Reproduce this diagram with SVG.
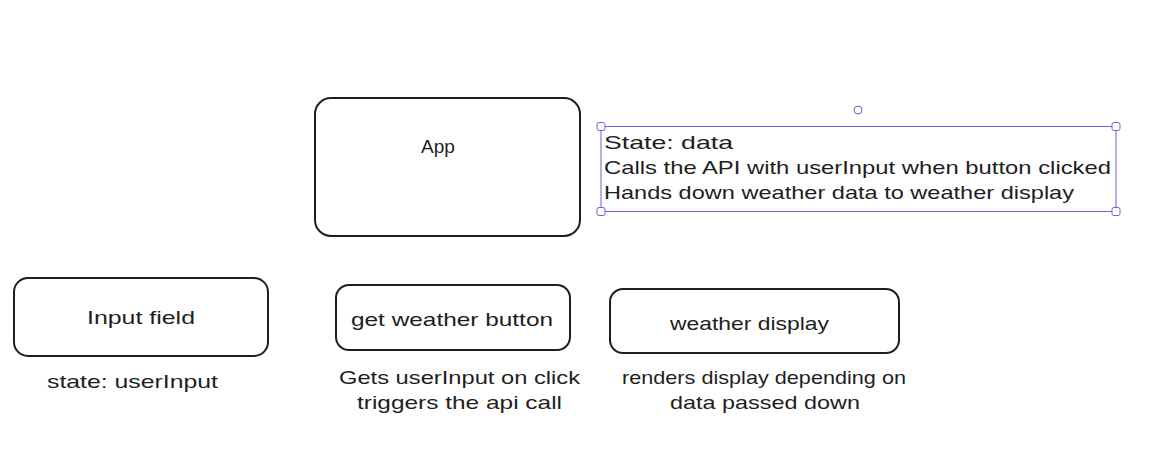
<svg xmlns="http://www.w3.org/2000/svg" width="1167" height="459" viewBox="0 0 1167 459">
<style>
.box{fill:none;stroke:#1e1e1e;stroke-width:2}
.t{font-family:"Liberation Sans",Arial,sans-serif;font-size:19px;fill:#1e1e1e}
.sel{fill:none;stroke:#6965db;stroke-width:1}
.h{fill:#ffffff;stroke:#6965db;stroke-width:1}
</style>
<rect width="1167" height="459" fill="#ffffff"/>
<g id="app">
<rect class="box" x="315" y="98" width="265" height="138" rx="16"/>
<text class="t" x="438" y="153" text-anchor="middle">App</text>
</g>
<g id="app-note">
<text class="t" x="604" y="149" textLength="129" lengthAdjust="spacingAndGlyphs">State: data</text>
<text class="t" x="604" y="174" textLength="507" lengthAdjust="spacingAndGlyphs">Calls the API with userInput when button clicked</text>
<text class="t" x="604" y="199" textLength="470" lengthAdjust="spacingAndGlyphs">Hands down weather data to weather display</text>
<g id="selection">
<rect class="sel" x="601" y="126.5" width="515" height="85"/>
<circle class="h" cx="858" cy="110" r="4"/>
<rect class="h" x="597" y="122.5" width="8" height="8" rx="2"/>
<rect class="h" x="1112" y="122.5" width="8" height="8" rx="2"/>
<rect class="h" x="597" y="207.5" width="8" height="8" rx="2"/>
<rect class="h" x="1112" y="207.5" width="8" height="8" rx="2"/>
</g>
</g>
<g id="input-field">
<rect class="box" x="14" y="278" width="254" height="78" rx="14"/>
<text class="t" x="141" y="324" text-anchor="middle" textLength="108" lengthAdjust="spacingAndGlyphs">Input field</text>
<text class="t" x="47" y="388" textLength="171" lengthAdjust="spacingAndGlyphs">state: userInput</text>
</g>
<g id="get-weather-button">
<rect class="box" x="336" y="285" width="234" height="65" rx="13"/>
<text class="t" x="351" y="326" textLength="202" lengthAdjust="spacingAndGlyphs">get weather button</text>
<text class="t" x="339" y="384" textLength="241" lengthAdjust="spacingAndGlyphs">Gets userInput on click</text>
<text class="t" x="357" y="409" textLength="205" lengthAdjust="spacingAndGlyphs">triggers the api call</text>
</g>
<g id="weather-display">
<rect class="box" x="610" y="289" width="289" height="64" rx="13"/>
<text class="t" x="670" y="330" textLength="159" lengthAdjust="spacingAndGlyphs">weather display</text>
<text class="t" x="622" y="384" textLength="284" lengthAdjust="spacingAndGlyphs">renders display depending on</text>
<text class="t" x="670" y="409" textLength="190" lengthAdjust="spacingAndGlyphs">data passed down</text>
</g>
<g id="connectors"></g>
</svg>
